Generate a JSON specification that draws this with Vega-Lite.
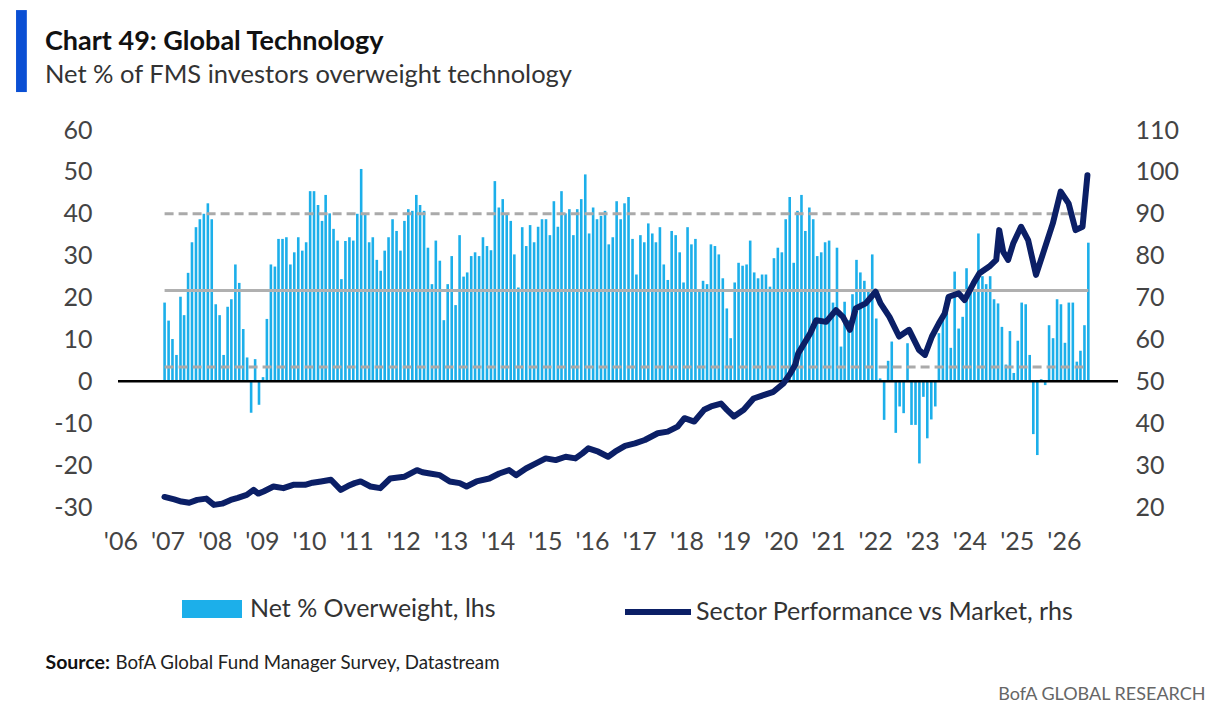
{
  "$schema": "https://vega.github.io/schema/vega-lite/v6.json",
  "width": 1000,
  "height": 377,
  "autosize": {"type": "none"},
  "padding": {"left": 118, "top": 130, "right": 98, "bottom": 197},
  "background": "white",
  "config": {
    "font": "Lato, Roboto, sans-serif",
    "view": {"stroke": null},
    "axis": {"grid": false}
  },
  "title": {
    "text": "Chart 49: Global Technology",
    "subtitle": "Net % of FMS investors overweight technology",
    "anchor": "start",
    "frame": "group",
    "dx": -73,
    "offset": -70,
    "fontSize": 27,
    "fontWeight": "bold",
    "color": "#111111",
    "subtitleFontSize": 25.5,
    "subtitleColor": "#333333",
    "subtitlePadding": 7
  },
  "datasets": {
    "fms": [
      {"d":"2006-10","v":18.8},{"d":"2006-11","v":14.5},{"d":"2006-12","v":10.1},
      {"d":"2007-01","v":6.3},{"d":"2007-02","v":20.2},{"d":"2007-03","v":15.8},{"d":"2007-04","v":25.9},{"d":"2007-05","v":33.2},{"d":"2007-06","v":36.8},{"d":"2007-07","v":38.7},{"d":"2007-08","v":40},{"d":"2007-09","v":42.5},{"d":"2007-10","v":38.7},{"d":"2007-11","v":18.4},{"d":"2007-12","v":15.8},
      {"d":"2008-01","v":6.3},{"d":"2008-02","v":17.8},{"d":"2008-03","v":19.6},{"d":"2008-04","v":27.9},{"d":"2008-05","v":23.5},{"d":"2008-06","v":12.5},{"d":"2008-07","v":5.7},{"d":"2008-08","v":-7.5},{"d":"2008-09","v":5.3},{"d":"2008-10","v":-5.6},{"d":"2008-11","v":1},{"d":"2008-12","v":14.9},
      {"d":"2009-01","v":27.9},{"d":"2009-02","v":27.4},{"d":"2009-03","v":34.0},{"d":"2009-04","v":34.0},{"d":"2009-05","v":34.4},{"d":"2009-06","v":27.9},{"d":"2009-07","v":30.8},{"d":"2009-08","v":34.4},{"d":"2009-09","v":31.2},{"d":"2009-10","v":33.2},{"d":"2009-11","v":45.4},{"d":"2009-12","v":45.4},
      {"d":"2010-01","v":42.1},{"d":"2010-02","v":38.3},{"d":"2010-03","v":44.5},{"d":"2010-04","v":40.1},{"d":"2010-05","v":36.4},{"d":"2010-06","v":33.6},{"d":"2010-07","v":24.4},{"d":"2010-08","v":33.5},{"d":"2010-09","v":34.4},{"d":"2010-10","v":33.6},{"d":"2010-11","v":40},{"d":"2010-12","v":50.7},
      {"d":"2011-01","v":40.1},{"d":"2011-02","v":33.2},{"d":"2011-03","v":34.4},{"d":"2011-04","v":29.0},{"d":"2011-05","v":26.4},{"d":"2011-06","v":31.2},{"d":"2011-07","v":34.4},{"d":"2011-08","v":38.7},{"d":"2011-09","v":35.9},{"d":"2011-10","v":31.2},{"d":"2011-11","v":38.3},{"d":"2011-12","v":41.1},
      {"d":"2012-01","v":40.7},{"d":"2012-02","v":44.5},{"d":"2012-03","v":42.1},{"d":"2012-04","v":40.7},{"d":"2012-05","v":31.9},{"d":"2012-06","v":23.2},{"d":"2012-07","v":33.6},{"d":"2012-08","v":28.8},{"d":"2012-09","v":14.6},{"d":"2012-10","v":23.2},{"d":"2012-11","v":29.9},{"d":"2012-12","v":18.2},
      {"d":"2013-01","v":34.9},{"d":"2013-02","v":25.0},{"d":"2013-03","v":26.0},{"d":"2013-04","v":29.9},{"d":"2013-05","v":30.8},{"d":"2013-06","v":29.9},{"d":"2013-07","v":34.4},{"d":"2013-08","v":32.3},{"d":"2013-09","v":31.3},{"d":"2013-10","v":47.8},{"d":"2013-11","v":41.5},{"d":"2013-12","v":43.5},
      {"d":"2014-01","v":40.1},{"d":"2014-02","v":38.3},{"d":"2014-03","v":30.3},{"d":"2014-04","v":22.4},{"d":"2014-05","v":36.8},{"d":"2014-06","v":32.3},{"d":"2014-07","v":37.3},{"d":"2014-08","v":33.2},{"d":"2014-09","v":36.9},{"d":"2014-10","v":38.7},{"d":"2014-11","v":38.7},{"d":"2014-12","v":34.9},
      {"d":"2015-01","v":43.0},{"d":"2015-02","v":36.9},{"d":"2015-03","v":45.4},{"d":"2015-04","v":40.1},{"d":"2015-05","v":41.1},{"d":"2015-06","v":34.9},{"d":"2015-07","v":41.1},{"d":"2015-08","v":43.5},{"d":"2015-09","v":49.4},{"d":"2015-10","v":35.3},{"d":"2015-11","v":41.5},{"d":"2015-12","v":38.7},
      {"d":"2016-01","v":39.5},{"d":"2016-02","v":40.7},{"d":"2016-03","v":32.7},{"d":"2016-04","v":34.4},{"d":"2016-05","v":43.0},{"d":"2016-06","v":38.7},{"d":"2016-07","v":42.5},{"d":"2016-08","v":44.0},{"d":"2016-09","v":34.0},{"d":"2016-10","v":25.5},{"d":"2016-11","v":34.9},{"d":"2016-12","v":33.2},
      {"d":"2017-01","v":37.7},{"d":"2017-02","v":35.3},{"d":"2017-03","v":33.2},{"d":"2017-04","v":36.8},{"d":"2017-05","v":27.9},{"d":"2017-06","v":24.2},{"d":"2017-07","v":35.9},{"d":"2017-08","v":34.9},{"d":"2017-09","v":30.8},{"d":"2017-10","v":23.6},{"d":"2017-11","v":36.8},{"d":"2017-12","v":32.7},
      {"d":"2018-01","v":34.0},{"d":"2018-02","v":22.0},{"d":"2018-03","v":24.0},{"d":"2018-04","v":23.2},{"d":"2018-05","v":32.7},{"d":"2018-06","v":32.3},{"d":"2018-07","v":30.3},{"d":"2018-08","v":24.6},{"d":"2018-09","v":17.4},{"d":"2018-10","v":10.3},{"d":"2018-11","v":23.6},{"d":"2018-12","v":28.3},
      {"d":"2019-01","v":27.6},{"d":"2019-02","v":27.9},{"d":"2019-03","v":33.6},{"d":"2019-04","v":26.0},{"d":"2019-05","v":24.6},{"d":"2019-06","v":25.5},{"d":"2019-07","v":25.5},{"d":"2019-08","v":22.6},{"d":"2019-09","v":29.4},{"d":"2019-10","v":31.9},{"d":"2019-11","v":30.8},{"d":"2019-12","v":38.7},
      {"d":"2020-01","v":44.0},{"d":"2020-02","v":28.3},{"d":"2020-03","v":40.7},{"d":"2020-04","v":44.5},{"d":"2020-05","v":35.9},{"d":"2020-06","v":41.5},{"d":"2020-07","v":38.7},{"d":"2020-08","v":29.9},{"d":"2020-09","v":30.8},{"d":"2020-10","v":33.2},{"d":"2020-11","v":33.6},{"d":"2020-12","v":18.8},
      {"d":"2021-01","v":31.9},{"d":"2021-02","v":8.3},{"d":"2021-03","v":19.0},{"d":"2021-04","v":14.6},{"d":"2021-05","v":20.8},{"d":"2021-06","v":29.0},{"d":"2021-07","v":26.0},{"d":"2021-08","v":24.0},{"d":"2021-09","v":21.8},{"d":"2021-10","v":30.3},{"d":"2021-11","v":15.0},{"d":"2021-12","v":0.7},
      {"d":"2022-01","v":-9.2},{"d":"2022-02","v":4.9},{"d":"2022-03","v":9.5},{"d":"2022-04","v":-12.3},{"d":"2022-05","v":-6.0},{"d":"2022-06","v":-7.6},{"d":"2022-07","v":9.1},{"d":"2022-08","v":-10.4},{"d":"2022-09","v":-10.4},{"d":"2022-10","v":-19.6},{"d":"2022-11","v":-3.7},{"d":"2022-12","v":-13.6},
      {"d":"2023-01","v":-9.1},{"d":"2023-02","v":-6.0},{"d":"2023-03","v":11.5},{"d":"2023-04","v":14.6},{"d":"2023-05","v":20.2},{"d":"2023-06","v":8.0},{"d":"2023-07","v":26.2},{"d":"2023-08","v":12.6},{"d":"2023-09","v":15.4},{"d":"2023-10","v":27.0},{"d":"2023-11","v":21.2},{"d":"2023-12","v":22.0},
      {"d":"2024-01","v":35.3},{"d":"2024-02","v":25.1},{"d":"2024-03","v":23.2},{"d":"2024-04","v":25.1},{"d":"2024-05","v":19.6},{"d":"2024-06","v":18.6},{"d":"2024-07","v":13.0},{"d":"2024-08","v":4.0},{"d":"2024-09","v":12.0},{"d":"2024-10","v":2.0},{"d":"2024-11","v":9.7},{"d":"2024-12","v":18.8},
      {"d":"2025-01","v":18.4},{"d":"2025-02","v":6.3},{"d":"2025-03","v":-12.6},{"d":"2025-04","v":-17.6},{"d":"2025-05","v":0.5},{"d":"2025-06","v":-0.9},{"d":"2025-07","v":13.4},{"d":"2025-08","v":10.3},{"d":"2025-09","v":19.6},{"d":"2025-10","v":18.4},{"d":"2025-11","v":9.2},{"d":"2025-12","v":18.8},
      {"d":"2026-01","v":18.8},{"d":"2026-02","v":4.7},{"d":"2026-03","v":7.3},{"d":"2026-04","v":13.4},{"d":"2026-05","v":33.1}
    ],
    "perf": [
      {"d":"2006-09-30","r":22.4},{"d":"2006-12-15","r":21.8},{"d":"2007-02-08","r":21.3},{"d":"2007-04-10","r":21.0},{"d":"2007-06-10","r":21.7},{"d":"2007-08-20","r":22.0},{"d":"2007-10-18","r":20.5},{"d":"2007-12-20","r":20.8},{"d":"2008-02-25","r":21.7},{"d":"2008-04-20","r":22.2},{"d":"2008-06-28","r":22.9},{"d":"2008-08-20","r":24.1},{"d":"2008-09-25","r":23.2},{"d":"2008-11-05","r":23.7},
      {"d":"2009-01-21","r":24.9},{"d":"2009-04-08","r":24.5},{"d":"2009-06-23","r":25.3},{"d":"2009-09-23","r":25.3},{"d":"2009-11-20","r":25.8},{"d":"2010-01-24","r":26.1},{"d":"2010-04-11","r":26.5},{"d":"2010-06-26","r":24.1},{"d":"2010-08-20","r":25.0},{"d":"2010-10-12","r":25.7},{"d":"2010-11-27","r":26.1},
      {"d":"2011-02-11","r":24.9},{"d":"2011-04-28","r":24.5},{"d":"2011-07-14","r":26.8},{"d":"2011-10-29","r":27.2},{"d":"2012-02-06","r":28.8},{"d":"2012-03-20","r":28.3},{"d":"2012-05-16","r":28.0},{"d":"2012-08-01","r":27.6},{"d":"2012-10-17","r":26.1},{"d":"2013-01-02","r":25.7},{"d":"2013-02-24","r":24.9},
      {"d":"2013-05-12","r":26.1},{"d":"2013-08-19","r":26.8},{"d":"2013-11-04","r":28.0},{"d":"2014-01-20","r":28.8},{"d":"2014-03-14","r":27.6},{"d":"2014-05-30","r":29.2},{"d":"2014-08-15","r":30.4},{"d":"2014-10-30","r":31.6},{"d":"2015-01-15","r":31.2},{"d":"2015-04-02","r":32.0},{"d":"2015-06-17","r":31.6},
      {"d":"2015-08-10","r":32.8},{"d":"2015-09-25","r":34.0},{"d":"2015-12-11","r":33.2},{"d":"2016-02-25","r":32.0},{"d":"2016-04-19","r":33.2},{"d":"2016-07-05","r":34.6},{"d":"2016-09-20","r":35.2},{"d":"2016-12-05","r":36.0},{"d":"2017-03-15","r":37.6},{"d":"2017-05-31","r":38.0},{"d":"2017-08-16","r":39.2},
      {"d":"2017-10-08","r":41.2},{"d":"2017-12-23","r":40.4},{"d":"2018-03-09","r":43.2},{"d":"2018-05-02","r":44.0},{"d":"2018-07-18","r":44.7},{"d":"2018-09-02","r":43.2},{"d":"2018-10-26","r":41.6},{"d":"2019-01-10","r":43.2},{"d":"2019-03-27","r":45.9},{"d":"2019-06-12","r":46.7},{"d":"2019-08-28","r":47.5},
      {"d":"2019-11-13","r":49.5},{"d":"2020-01-06","r":51.9},{"d":"2020-02-13","r":54.0},{"d":"2020-03-07","r":56.7},{"d":"2020-03-23","r":57.5},{"d":"2020-06-08","r":61.5},{"d":"2020-07-24","r":64.6},{"d":"2020-10-09","r":64.2},{"d":"2020-12-24","r":67.0},{"d":"2021-02-16","r":65.4},{"d":"2021-04-11","r":62.3},
      {"d":"2021-05-26","r":67.4},{"d":"2021-08-11","r":68.6},{"d":"2021-10-27","r":71.4},{"d":"2021-12-04","r":68.6},{"d":"2022-02-11","r":65.4},{"d":"2022-04-27","r":60.7},{"d":"2022-07-13","r":62.3},{"d":"2022-09-28","r":57.5},{"d":"2022-11-13","r":56.3},{"d":"2023-01-06","r":60.7},{"d":"2023-02-28","r":63.8},
      {"d":"2023-04-15","r":66.2},{"d":"2023-05-16","r":70.2},{"d":"2023-08-01","r":71.0},{"d":"2023-09-16","r":69.4},{"d":"2023-11-24","r":73.4},{"d":"2024-01-09","r":75.8},{"d":"2024-03-25","r":77.4},{"d":"2024-05-18","r":79.0},{"d":"2024-06-10","r":86.1},{"d":"2024-07-11","r":80.9},{"d":"2024-08-18","r":79.0},
      {"d":"2024-09-26","r":82.9},{"d":"2024-11-26","r":86.9},{"d":"2025-01-20","r":83.7},{"d":"2025-03-22","r":75.4},{"d":"2025-05-15","r":80.5},{"d":"2025-07-30","r":87.7},{"d":"2025-09-29","r":95.3},{"d":"2025-11-29","r":92.5},{"d":"2026-01-22","r":86.1},{"d":"2026-03-17","r":86.9},{"d":"2026-04-24","r":99.2}
    ],
    "refsDash": [
      {"level": 40.0, "from": "2006-10", "to": "2026-05"},
      {"level": 3.4, "from": "2006-10", "to": "2026-05"}
    ],
    "refsMean": [
      {"level": 21.7, "from": "2006-10", "to": "2026-05"}
    ]
  },
  "layer": [
    {
      "layer": [
        {
          "data": {"name": "fms"},
          "mark": {"type": "bar", "size": 2.6},
          "encoding": {
            "x": {
              "field": "d", "type": "temporal",
              "scale": {"type": "utc", "domain": [{"year": 2005, "month": 11, "date": 13, "utc": true}, {"year": 2026, "month": 11, "date": 8, "utc": true}]},
              "axis": {
                "orient": "bottom",
                "values": [
                  {"year": 2006, "month": 1, "date": 1, "utc": true}, {"year": 2007, "month": 1, "date": 1, "utc": true}, {"year": 2008, "month": 1, "date": 1, "utc": true},
                  {"year": 2009, "month": 1, "date": 1, "utc": true}, {"year": 2010, "month": 1, "date": 1, "utc": true}, {"year": 2011, "month": 1, "date": 1, "utc": true},
                  {"year": 2012, "month": 1, "date": 1, "utc": true}, {"year": 2013, "month": 1, "date": 1, "utc": true}, {"year": 2014, "month": 1, "date": 1, "utc": true},
                  {"year": 2015, "month": 1, "date": 1, "utc": true}, {"year": 2016, "month": 1, "date": 1, "utc": true}, {"year": 2017, "month": 1, "date": 1, "utc": true},
                  {"year": 2018, "month": 1, "date": 1, "utc": true}, {"year": 2019, "month": 1, "date": 1, "utc": true}, {"year": 2020, "month": 1, "date": 1, "utc": true},
                  {"year": 2021, "month": 1, "date": 1, "utc": true}, {"year": 2022, "month": 1, "date": 1, "utc": true}, {"year": 2023, "month": 1, "date": 1, "utc": true},
                  {"year": 2024, "month": 1, "date": 1, "utc": true}, {"year": 2025, "month": 1, "date": 1, "utc": true}, {"year": 2026, "month": 1, "date": 1, "utc": true}
                ],
                "labelExpr": "\"'\" + substring(utcFormat(datum.value, '%Y'), 2, 4)",
                "domain": false, "ticks": false, "grid": false, "labelFontSize": 25, "labelColor": "#444444", "labelPadding": 22, "labelOffset": -9,
                "labelFlush": false, "labelOverlap": false, "labelBound": false,
                "title": "BofA Global Fund Manager Survey, Datastream",
                "titleX": -3, "titleY": 161, "titleAlign": "left", "titleBaseline": "alphabetic",
                "titleFontSize": 18.7, "titleFontWeight": "normal", "titleColor": "#222222"
              }
            },
            "y": {
              "field": "v", "type": "quantitative",
              "scale": {"domain": [-30, 60], "nice": false, "zero": false},
              "axis": {
                "orient": "left", "values": [-30, -20, -10, 0, 10, 20, 30, 40, 50, 60],
                "labelExpr": "'' + datum.value",
                "domain": false, "ticks": false, "labelFontSize": 25, "labelColor": "#444444", "labelPadding": 26,
                "title": "Source:", "titleAngle": 0, "titleX": -73, "titleY": 538, "titleAlign": "left", "titleBaseline": "alphabetic",
                "titleFontSize": 19.5, "titleFontWeight": "bold", "titleColor": "#111111"
              }
            },
            "fill": {
              "datum": "Net % Overweight, lhs", "type": "nominal",
              "scale": {"range": ["#1cafea"]},
              "legend": {
                "orient": "none", "legendX": 64, "legendY": 449, "title": null, "padding": 0,
                "symbolType": "M-1,-0.3H1V0.3H-1Z", "symbolSize": 3600, "symbolStrokeWidth": 0,
                "labelFontSize": 25, "labelColor": "#333333", "labelOffset": 8, "labelLimit": 600
              }
            }
          }
        },
        {
          "data": {"name": "refsDash"},
          "mark": {"type": "rule", "stroke": "#aaaaaa", "strokeWidth": 3, "strokeDash": [9, 5]},
          "encoding": {
            "x": {"field": "from", "type": "temporal"},
            "x2": {"field": "to"},
            "y": {"field": "level", "type": "quantitative", "axis": null}
          }
        },
        {
          "data": {"name": "refsMean"},
          "mark": {"type": "rule", "stroke": "#b0b0b0", "strokeWidth": 3},
          "encoding": {
            "x": {"field": "from", "type": "temporal"},
            "x2": {"field": "to"},
            "y": {"field": "level", "type": "quantitative", "axis": null}
          }
        },
        {
          "data": {"values": [{"z": 0}]},
          "mark": {"type": "rule", "stroke": "#000000", "strokeWidth": 2.5},
          "encoding": {
            "y": {
              "field": "z", "type": "quantitative",
              "axis": {
                "orient": "left", "labels": false, "ticks": false, "domain": false, "grid": false,
                "title": "┃", "titleFont": "DejaVu Sans", "titleFontSize": 69, "titleColor": "#0a4fd4",
                "titleAngle": 0, "titleX": -97, "titleY": -111, "titleAlign": "center", "titleBaseline": "top"
              }
            }
          }
        }
      ],
      "resolve": {"axis": {"y": "independent"}}
    },
    {
      "data": {"name": "perf"},
      "mark": {"type": "line", "strokeWidth": 6, "strokeJoin": "round", "strokeCap": "round"},
      "encoding": {
        "x": {"field": "d", "type": "temporal"},
        "y": {
          "field": "r", "type": "quantitative",
          "scale": {"domain": [20, 110], "nice": false, "zero": false},
          "axis": {
            "orient": "right", "values": [20, 30, 40, 50, 60, 70, 80, 90, 100, 110],
            "domain": false, "ticks": false, "labelFontSize": 25, "labelColor": "#444444", "labelPadding": 17,
            "title": "BofA GLOBAL RESEARCH", "titleAngle": 0, "titleX": 87, "titleY": 569, "titleAlign": "right", "titleBaseline": "alphabetic",
            "titleFontSize": 18, "titleFontWeight": "normal", "titleColor": "#666666"
          }
        },
        "stroke": {
          "datum": "Sector Performance vs Market, rhs", "type": "nominal",
          "scale": {"range": ["#0b1f66"]},
          "legend": {
            "orient": "none", "legendX": 504, "legendY": 446, "title": null, "padding": 0,
            "symbolType": "stroke", "symbolSize": 4356, "symbolStrokeWidth": 6,
            "labelFontSize": 25, "labelColor": "#333333", "labelOffset": 2, "labelLimit": 600
          }
        }
      }
    }
  ],
  "resolve": {"scale": {"y": "independent"}}
}
